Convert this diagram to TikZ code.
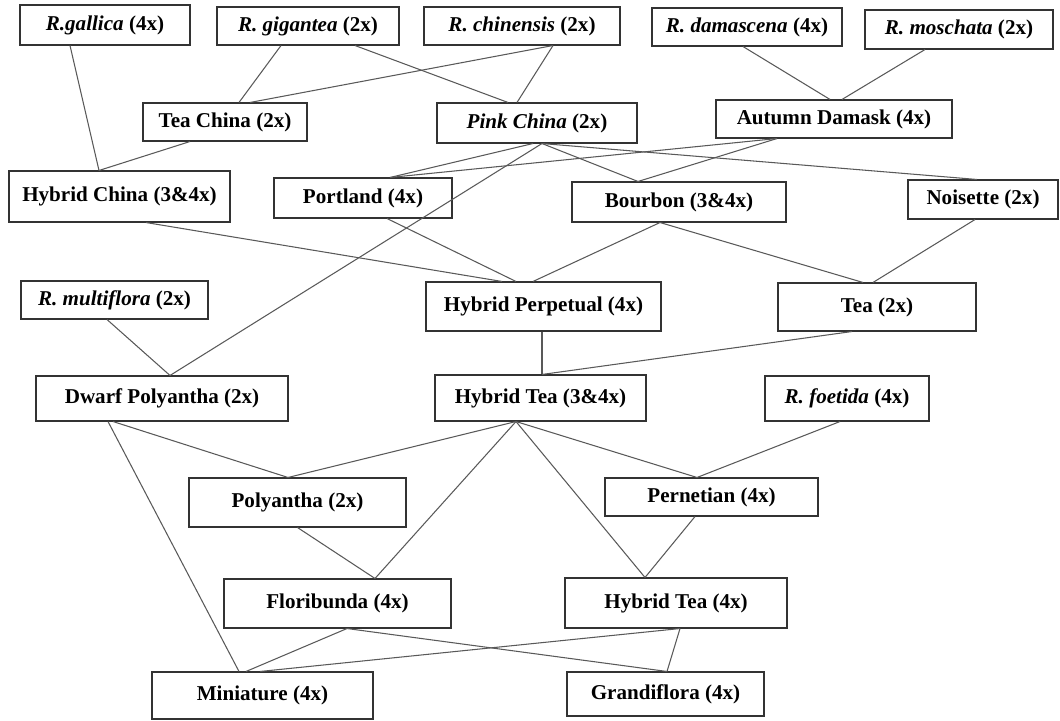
\documentclass[tikz,border=0pt]{standalone}
\usepackage{fontspec}
\setmainfont{Liberation Serif}
\usepackage{tikz}

\begin{document}
\begin{tikzpicture}[
    rose/.style={draw=black!80, line width=0.6pt, inner sep=0pt, font=\fontsize{12}{14}\selectfont\bfseries},
    link/.style={draw=black!65, line width=0.6pt}]
    \useasboundingbox (0,0) rectangle (21.2,14.4);

    % species and old groups
    \node[rose, minimum width=3.40cm, minimum height=0.80cm] (gallica)    at (2.10,13.90) {\textit{R.gallica} (4x)};
    \node[rose, minimum width=3.64cm, minimum height=0.76cm] (gigantea)   at (6.16,13.88) {\textit{R. gigantea} (2x)};
    \node[rose, minimum width=3.92cm, minimum height=0.76cm] (chinensis)  at (10.44,13.88) {\textit{R. chinensis} (2x)};
    \node[rose, minimum width=3.80cm, minimum height=0.76cm] (damascena)  at (14.94,13.86) {\textit{R. damascena} (4x)};
    \node[rose, minimum width=3.76cm, minimum height=0.78cm] (moschata)   at (19.18,13.81) {\textit{R. moschata} (2x)};
    \node[rose, minimum width=3.28cm, minimum height=0.76cm] (teachina)   at (4.50,11.96) {Tea China (2x)};
    \node[rose, minimum width=4.00cm, minimum height=0.80cm] (pinkchina)  at (10.74,11.94) {\textit{Pink China} (2x)};
    \node[rose, minimum width=4.72cm, minimum height=0.76cm] (autumn)     at (16.68,12.02) {Autumn Damask (4x)};
    \node[rose, minimum width=4.42cm, minimum height=1.02cm] (hybchina)   at (2.39,10.47) {Hybrid China (3\&4x)};
    \node[rose, minimum width=3.56cm, minimum height=0.80cm] (portland)   at (7.26,10.44) {Portland (4x)};
    \node[rose, minimum width=4.28cm, minimum height=0.80cm] (bourbon)    at (13.58,10.36) {Bourbon (3\&4x)};
    \node[rose, minimum width=3.00cm, minimum height=0.78cm] (noisette)   at (19.66,10.41) {Noisette (2x)};
    \node[rose, minimum width=3.74cm, minimum height=0.76cm] (multiflora) at (2.29,8.40) {\textit{R. multiflora} (2x)};
    \node[rose, minimum width=4.70cm, minimum height=0.98cm] (hybperp)    at (10.87,8.27) {Hybrid Perpetual (4x)};
    \node[rose, minimum width=3.96cm, minimum height=0.96cm] (tea)        at (17.54,8.26) {Tea (2x)};

    % modern groups
    \node[rose, minimum width=5.04cm, minimum height=0.90cm] (dwarfpoly)  at (3.24,6.43) {Dwarf Polyantha (2x)};
    \node[rose, minimum width=4.22cm, minimum height=0.92cm] (hybtea)     at (10.81,6.44) {Hybrid Tea (3\&4x)};
    \node[rose, minimum width=3.28cm, minimum height=0.90cm] (foetida)    at (16.94,6.43) {\textit{R. foetida} (4x)};
    \node[rose, minimum width=4.34cm, minimum height=0.98cm] (polyantha)  at (5.95,4.35) {Polyantha (2x)};
    \node[rose, minimum width=4.26cm, minimum height=0.76cm] (pernetian)  at (14.23,4.46) {Pernetian (4x)};
    \node[rose, minimum width=4.54cm, minimum height=0.98cm] (floribunda) at (6.75,2.33) {Floribunda (4x)};
    \node[rose, minimum width=4.44cm, minimum height=1.00cm] (hybteafour) at (13.52,2.34) {Hybrid Tea (4x)};
    \node[rose, minimum width=4.42cm, minimum height=0.94cm] (miniature)  at (5.25,0.49) {Miniature (4x)};
    \node[rose, minimum width=3.94cm, minimum height=0.88cm] (grandiflora) at (13.31,0.52) {Grandiflora (4x)};

    % parent -- child, with x offsets along the box edges
    \foreach \p/\dp/\c/\dc in {gallica/-0.70/hybchina/-0.41, gigantea/-0.54/teachina/0.28,
            gigantea/0.94/pinkchina/-0.58, chinensis/0.62/teachina/0.50,
            chinensis/0.62/pinkchina/-0.40, damascena/-0.08/autumn/-0.08,
            moschata/-0.68/autumn/0.16, teachina/-0.70/hybchina/-0.41,
            pinkchina/-0.08/portland/0.54, pinkchina/0.10/bourbon/-0.82,
            pinkchina/0.10/noisette/-0.12, pinkchina/0.10/dwarfpoly/0.16,
            autumn/-1.14/portland/0.54, autumn/-1.14/bourbon/-0.82,
            hybchina/0.53/hybperp/-0.83, portland/0.48/hybperp/-0.55,
            bourbon/-0.38/hybperp/-0.21, bourbon/-0.38/tea/-0.28,
            noisette/-0.16/tea/-0.08, multiflora/-0.15/dwarfpoly/0.16,
            hybperp/-0.03/hybtea/0.03, tea/-0.50/hybtea/0.03,
            dwarfpoly/-1.08/miniature/-0.47, dwarfpoly/-0.98/polyantha/-0.19,
            hybtea/-0.49/polyantha/-0.19, hybtea/-0.49/floribunda/0.75,
            hybtea/-0.49/pernetian/-0.29, hybtea/-0.49/hybteafour/-0.62,
            foetida/-0.14/pernetian/-0.29, polyantha/0.00/floribunda/0.75,
            pernetian/-0.33/hybteafour/-0.62, floribunda/0.19/miniature/-0.33,
            floribunda/0.19/grandiflora/0.03, hybteafour/0.08/miniature/-0.05,
            hybteafour/0.08/grandiflora/0.03}
        \draw[link] ([xshift=\dp cm]\p.south) -- ([xshift=\dc cm]\c.north);
\end{tikzpicture}
\end{document}
